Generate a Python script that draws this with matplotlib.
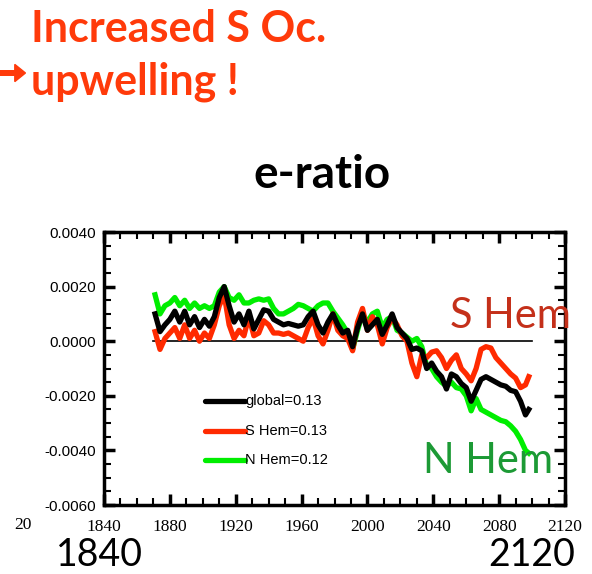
import matplotlib
matplotlib.use("Agg")
import matplotlib.pyplot as plt
import numpy as np
from matplotlib.ticker import MultipleLocator, FixedLocator

# values, in units of 1e-3
years = np.arange(1871, 2097, 3).tolist() + [2098]
glob = [1.0, 0.35, 0.6, 0.8, 1.1, 0.7, 1.1, 0.6, 0.9, 0.5,
        0.8, 0.55, 0.9, 1.6, 2.0, 1.3, 0.7, 1.0, 0.6, 1.1,
        0.45, 0.8, 1.15, 1.1, 0.8, 0.7, 0.6, 0.65, 0.6, 0.55,
        0.6, 0.9, 1.1, 0.6, 0.3, 0.7, 1.0, 0.6, 0.3, 0.4,
        -0.2, 0.5, 1.0, 0.4, 0.6, 0.8, 0.25, 0.6, 1.0, 0.5,
        0.3, 0.1, -0.3, -0.25, -0.35, -1.0, -0.8, -1.1, -1.3, -1.75,
        -1.2, -1.3, -1.55, -1.7, -2.2, -1.8, -1.4, -1.3, -1.4, -1.5,
        -1.6, -1.65, -1.8, -1.85, -2.2, -2.7, -2.5]
shem = [0.35, -0.3, 0.1, 0.3, 0.5, 0.1, 0.6, 0.1, 0.4, 0.0,
        0.3, 0.1, 0.6, 1.3, 1.7, 0.6, 0.1, 0.4, 0.2, 0.9,
        0.2, 0.3, 0.75, 0.6, 0.3, 0.3, 0.25, 0.3, 0.2, 0.1,
        0.0, 0.5, 0.85, 0.2, -0.1, 0.4, 1.0, 0.4, 0.2, 0.1,
        -0.35, 0.7, 1.2, 0.4, 0.9, 0.6, -0.1, 0.5, 0.85, 0.6,
        0.2, 0.0, -0.8, -1.3, -0.5, -0.6, -0.4, -0.35, -0.6, -1.0,
        -0.7, -0.5, -1.0, -1.2, -1.45, -1.0, -0.3, -0.2, -0.25, -0.6,
        -0.8, -1.0, -1.2, -1.35, -1.7, -1.6, -1.3]
nhem = [1.7, 1.0, 1.3, 1.4, 1.6, 1.3, 1.5, 1.2, 1.4, 1.2,
        1.3, 1.2, 1.3, 1.8, 2.0, 1.6, 1.5, 1.7, 1.4, 1.4,
        1.5, 1.55, 1.5, 1.55, 1.2, 1.0, 1.0, 1.1, 1.2, 1.35,
        1.3, 1.2, 1.1, 1.3, 1.4, 1.4, 1.1, 0.85, 0.6, 0.3,
        -0.3, 0.4, 1.0, 0.7, 1.0, 1.1, 0.5, 0.8, 0.9, 0.4,
        0.3, 0.15, 0.0, 0.1, -0.2, -0.9, -1.0, -1.3, -1.5, -1.65,
        -1.5, -1.7, -1.75, -2.0, -2.55, -2.1, -2.5, -2.6, -2.7, -2.8,
        -2.9, -2.95, -3.1, -3.3, -3.6, -4.0, -4.1]
legend_labels = ["global=0.13", "S Hem=0.13", "N Hem=0.12"]
colors = ["black", "#ff2a00", "#00ee00"]

fig = plt.figure(figsize=(5.92, 5.74), dpi=100)
ax = fig.add_axes([0.1757, 0.1202, 0.7787, 0.4756])

scale = 1e-3
lw = 3.8
ax.plot([1870, 2100], [0, 0], color="black", lw=1.2, zorder=1)
ax.plot(years, np.array(nhem) * scale, color=colors[2], lw=lw, zorder=2)
ax.plot(years, np.array(shem) * scale, color=colors[1], lw=lw, zorder=3)
ax.plot(years, np.array(glob) * scale, color=colors[0], lw=lw, zorder=4)

# legend drawn by hand like the NCL one
for i, (lab, c) in enumerate(zip(legend_labels, colors)):
    yy = [0.381, 0.271, 0.165][i]
    ax.plot([0.219, 0.306], [yy, yy], color=c, lw=lw, transform=ax.transAxes,
            solid_capstyle="round")
    ax.text(0.306, yy, lab, transform=ax.transAxes, fontsize=10.5,
            family="Liberation Sans", va="center", ha="left")

ax.set_xlim(1840, 2120)
ax.set_ylim(-0.006, 0.004)
ax.xaxis.set_major_locator(MultipleLocator(40))
ax.xaxis.set_minor_locator(MultipleLocator(10))
yt = [-0.006, -0.004, -0.002, 0.0, 0.002, 0.004]
ax.yaxis.set_major_locator(FixedLocator(yt))
ax.yaxis.set_minor_locator(MultipleLocator(0.0005))
ax.set_yticklabels(["-0.0060", "-0.0040", "-0.0020", "0.0000", "0.0020", "0.0040"],
                   family="Liberation Sans", fontsize=11)
ax.set_xticks(np.arange(1840, 2121, 40))
ax.set_xticklabels([str(v) for v in range(1840, 2121, 40)],
                   family="Liberation Serif", fontsize=12.5)
ax.tick_params(which="both", direction="in", top=True, right=True)
ax.tick_params(which="major", length=8, width=2.5)
ax.tick_params(which="minor", length=5, width=1.5)
ax.tick_params(axis="x", pad=10)
ax.tick_params(axis="y", pad=6)
for s in ax.spines.values():
    s.set_linewidth(2.5)

# slide annotations
red = "#ff3a0a"
fig.text(31 / 592, 1 - 42 / 574, "Increased S Oc.", color=red, fontsize=31,
         fontweight="bold", family="Lato", va="baseline", ha="left")
fig.text(31 / 592, 1 - 95 / 574, "upwelling !", color=red, fontsize=31,
         fontweight="bold", family="Lato", va="baseline", ha="left")
fig.patches.append(matplotlib.patches.FancyArrow(-0.01, 1 - 73 / 574, 0.035, 0,
                   width=0.008, head_width=0.03, head_length=0.018,
                   color=red, transform=fig.transFigure, figure=fig))
fig.text(322 / 592, 1 - 188 / 574, "e-ratio", fontsize=33, fontweight="bold",
         family="Lato", va="baseline", ha="center")
fig.text(450 / 592, 1 - 328 / 574, "S Hem", color="#c4301a", fontsize=30,
         family="Lato", va="baseline", ha="left")
fig.text(423 / 592, 1 - 473 / 574, "N Hem", color="#1c9a35", fontsize=30,
         family="Lato", va="baseline", ha="left")
fig.text(32 / 592, 1 - 525 / 574, "20", fontsize=12.5, family="Liberation Serif",
         va="center", ha="right")
fig.text(99 / 592, 1 - 573 / 574, "1840", fontsize=27, family="Lato",
         va="bottom", ha="center")
fig.text(532 / 592, 1 - 573 / 574, "2120", fontsize=27, family="Lato",
         va="bottom", ha="center")

fig.savefig("out.png", dpi=100)
